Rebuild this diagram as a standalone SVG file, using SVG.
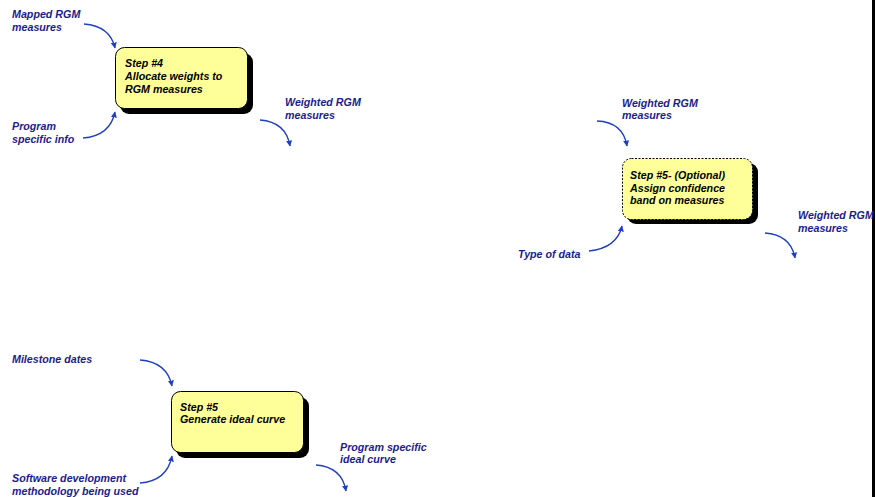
<svg xmlns="http://www.w3.org/2000/svg" width="876" height="497" viewBox="0 0 876 497">
<style>
.lbl{font-family:"Liberation Sans",Arial,sans-serif;font-size:10.7px;font-weight:bold;font-style:italic;fill:#1c1c8c}
.stxt{font-family:"Liberation Sans",Arial,sans-serif;font-size:10.7px;font-weight:bold;font-style:italic;fill:#000}
.box{fill:#ffff99;stroke:#000;stroke-width:1}
.shadow{fill:#000}
.dash{stroke-dasharray:2,1.5}
.conn{fill:none;stroke:#1f3fbf;stroke-width:1.3;marker-end:url(#ah)}
</style>
<defs>
<marker id="ah" viewBox="0 0 10 10" refX="9" refY="5" markerWidth="6" markerHeight="6" orient="auto" markerUnits="userSpaceOnUse">
<path d="M0,0 L10,5 L0,10 z" fill="#1f3fbf"/>
</marker>
</defs>
<rect width="876" height="497" fill="#fff"/>
<rect x="872" y="0" width="3" height="497" fill="#000"/>

<g id="step4">
<rect class="shadow" x="120" y="53" width="133" height="61" rx="9"/>
<rect class="box" x="115.5" y="47.5" width="132" height="61" rx="9"/>
<text class="stxt" x="125" y="67">Step #4</text>
<text class="stxt" x="125" y="80">Allocate weights to</text>
<text class="stxt" x="125" y="93">RGM measures</text>
</g>
<g id="step5opt">
<rect class="shadow" x="627" y="163" width="131" height="61" rx="9"/>
<rect class="box dash" x="622.5" y="158.5" width="130" height="61" rx="9"/>
<text class="stxt" x="630" y="179">Step #5- (Optional)</text>
<text class="stxt" x="630" y="192">Assign confidence</text>
<text class="stxt" x="630" y="204">band on measures</text>
</g>
<g id="step5">
<rect class="shadow" x="176" y="397" width="133" height="61" rx="9"/>
<rect class="box" x="171.5" y="391.5" width="132" height="61" rx="9"/>
<text class="stxt" x="180" y="411">Step #5</text>
<text class="stxt" x="180" y="423">Generate ideal curve</text>
</g>

<g id="labels">
<text class="lbl" x="12" y="18">Mapped RGM</text>
<text class="lbl" x="12" y="31">measures</text>
<text class="lbl" x="12" y="130">Program</text>
<text class="lbl" x="12" y="143">specific info</text>
<text class="lbl" x="285" y="106">Weighted RGM</text>
<text class="lbl" x="285" y="119">measures</text>
<text class="lbl" x="622" y="107">Weighted RGM</text>
<text class="lbl" x="622" y="119">measures</text>
<text class="lbl" x="518" y="258">Type of data</text>
<text class="lbl" x="798" y="219">Weighted RGM</text>
<text class="lbl" x="798" y="232">measures</text>
<text class="lbl" x="12" y="363">Milestone dates</text>
<text class="lbl" x="12" y="482">Software development</text>
<text class="lbl" x="12" y="495">methodology being used</text>
<text class="lbl" x="340" y="451">Program specific</text>
<text class="lbl" x="340" y="463">ideal curve</text>
</g>

<g id="connectors">
<path class="conn" d="M84,24 Q110,26 115,48"/>
<path class="conn" d="M83,138 Q110,136 115,112"/>
<path class="conn" d="M260,120 Q286,122 290,146"/>
<path class="conn" d="M597,121 Q623,122 627,146"/>
<path class="conn" d="M589,251 Q617,248 622,226"/>
<path class="conn" d="M765,233 Q791,235 795,258"/>
<path class="conn" d="M140,360 Q167,362 172,386"/>
<path class="conn" d="M140,483 Q167,481 172,456"/>
<path class="conn" d="M316,465 Q342,467 346,491"/>
</g>
</svg>
